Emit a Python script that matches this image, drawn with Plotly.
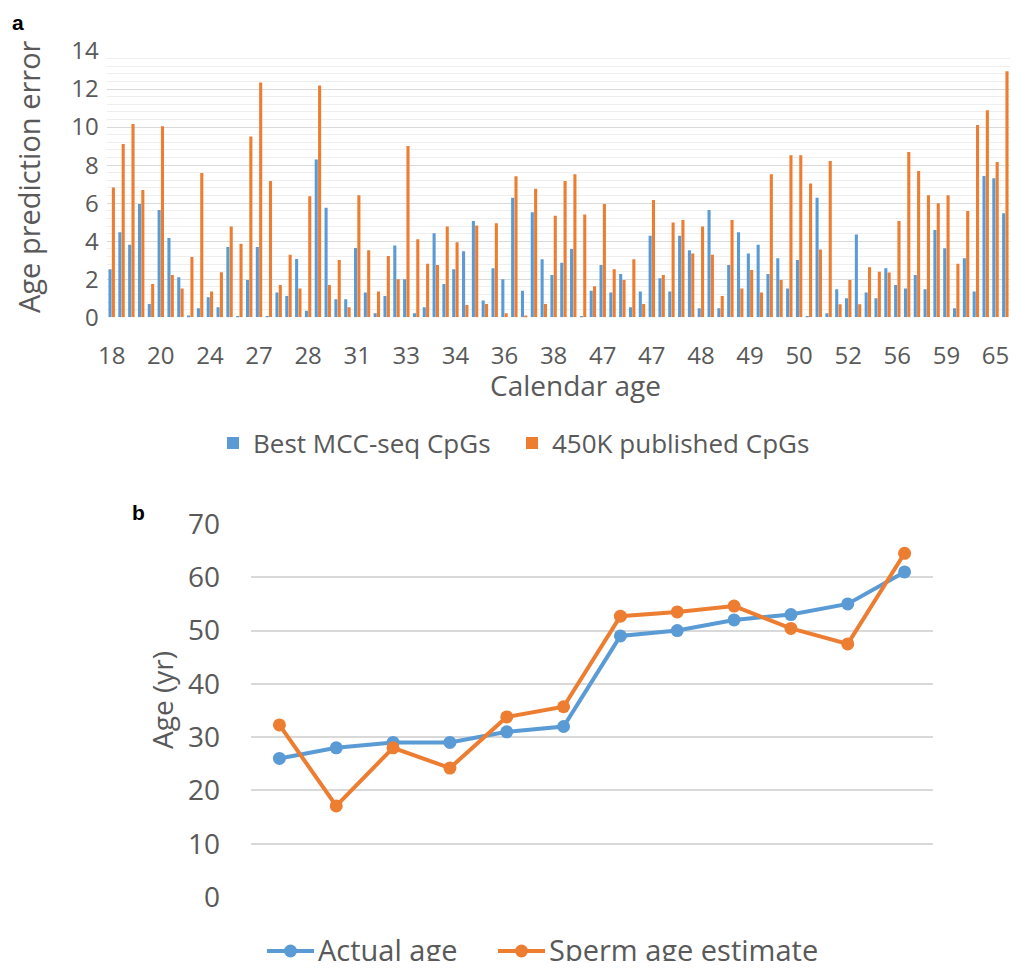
import plotly.graph_objects as go

S = 8                      # page body margin around the embedded figure
W, H = 1018 - S, 969 - 2 * S  # figure fills the window without scrolling

# ---- Panel a data ----
tick_labels = ["18", "20", "24", "27", "28", "31", "33", "34", "36", "38",
               "47", "47", "48", "49", "50", "52", "56", "59", "65"]
mcc_err = [2.52, 4.47, 3.82, 5.96, 0.70, 5.64, 4.17, 2.10, 0.10, 0.47,
           1.05, 0.53, 3.70, 0.05, 1.96, 3.70, 0.05, 1.30, 1.12, 3.07,
           0.35, 8.29, 5.76, 0.95, 0.95, 3.64, 1.30, 0.21, 1.12, 3.77,
           2.00, 0.21, 0.53, 4.42, 1.75, 2.52, 3.47, 5.06, 0.88, 2.58,
           2.00, 6.29, 1.40, 5.52, 3.05, 2.23, 2.87, 3.59, 0.05, 1.40,
           2.75, 1.30, 2.28, 0.53, 1.35, 4.29, 2.05, 1.35, 4.29, 3.52,
           0.47, 5.64, 0.47, 2.75, 4.47, 3.35, 3.82, 2.28, 3.10, 1.52,
           3.01, 0.05, 6.29, 0.21, 1.47, 1.00, 4.35, 1.30, 1.00, 2.58,
           1.70, 1.52, 2.23, 1.47, 4.59, 3.63, 0.47, 3.10, 1.35, 7.43,
           7.31, 5.47, 9.71]
k450_err = [6.82, 9.11, 10.16, 6.69, 1.75, 10.04, 2.23, 1.52, 3.17, 7.59,
            1.35, 2.37, 4.77, 3.87, 9.51, 12.35, 7.17, 1.70, 3.29, 1.52,
            6.36, 12.18, 1.70, 3.01, 0.53, 6.41, 3.52, 1.35, 3.22, 2.00,
            9.01, 4.10, 2.82, 2.75, 4.77, 3.94, 0.65, 4.82, 0.70, 4.94,
            0.21, 7.41, 0.10, 6.76, 0.70, 5.34, 7.17, 7.52, 5.41, 1.63,
            5.96, 2.52, 1.96, 3.05, 0.70, 6.17, 2.23, 4.99, 5.12, 3.35,
            4.77, 3.29, 1.12, 5.12, 1.52, 2.49, 1.30, 7.52, 1.96, 8.52,
            8.52, 7.04, 3.57, 8.22, 0.68, 1.96, 0.68, 2.63, 2.40, 2.35,
            5.06, 8.69, 7.69, 6.41, 5.99, 6.41, 2.82, 5.59, 10.11, 10.88,
            8.17, 12.93, 12.00]

# ---- Panel b data ----
actual_age = [26, 28, 29, 29, 31, 32, 49, 50, 52, 53, 55, 61]
sperm_age = [32.3, 17.1, 28.0, 24.2, 33.8, 35.7, 52.7, 53.5, 54.6, 50.4, 47.5, 64.5]
series_b = ["Actual age", "Sperm age estimate"]

BLUE = "#5B9BD5"
ORANGE = "#ED7D31"
GRAY = "#595959"
GRID = "#D9D9D9"
FONT = "Open Sans, Noto Sans, sans-serif"


def px(x):
    """page x pixel -> paper fraction"""
    return (x - S) / W


def py(y):
    """page y pixel (from top) -> paper fraction"""
    return (H - (y - S)) / H


idx = list(range(len(mcc_err)))
pos = list(range(len(actual_age)))

fig = go.Figure()
fig.add_trace(go.Bar(x=idx, y=mcc_err, name="Best MCC-seq CpGs",
                     marker=dict(color=BLUE, line=dict(width=0)),
                     xaxis="x", yaxis="y", legend="legend"))
fig.add_trace(go.Bar(x=idx, y=k450_err, name="450K published CpGs",
                     marker=dict(color=ORANGE, line=dict(width=0)),
                     xaxis="x", yaxis="y", legend="legend"))
fig.add_trace(go.Scatter(x=pos, y=actual_age, name=series_b[0], mode="lines+markers",
                         line=dict(color=BLUE, width=4), marker=dict(size=13, color=BLUE),
                         xaxis="x2", yaxis="y2", showlegend=False))
fig.add_trace(go.Scatter(x=pos, y=sperm_age, name=series_b[1], mode="lines+markers",
                         line=dict(color=ORANGE, width=4), marker=dict(size=13, color=ORANGE),
                         xaxis="x2", yaxis="y2", showlegend=False))

cat_w = 9.82
x_left = 106.8
x_end = 1018
x_right_val = -0.5 + (x_end - x_left) / cat_w

fig.update_layout(
    width=W, height=H,
    margin=dict(l=0, r=0, t=0, b=0, autoexpand=False),
    paper_bgcolor="white", plot_bgcolor="white",
    font=dict(family=FONT, color=GRAY, size=22),
    barmode="group", bargap=0.32, bargroupgap=0.08,
    xaxis=dict(domain=[px(x_left), px(x_end)], anchor="y", range=[-0.5, x_right_val],
               tickmode="array", tickvals=[i * 5 for i in range(len(tick_labels))],
               ticktext=tick_labels, showgrid=False, zeroline=False, showline=False,
               automargin=False,
               ticks="", ticklabelstandoff=22, tickfont=dict(size=24, color=GRAY)),
    yaxis=dict(domain=[py(317.3), py(51)], anchor="x", range=[0, 14], dtick=2,
               showgrid=True, gridcolor=GRID, gridwidth=1, zeroline=False, showline=False,
               automargin=False,
               ticks="", ticklabelstandoff=7, tickfont=dict(size=24, color=GRAY),
               minor=dict(dtick=0.4, tick0=0, showgrid=True, gridcolor="#EEEEEE", gridwidth=1)),
    xaxis2=dict(domain=[px(251), px(933)], anchor="y2", range=[-0.5, 11.5],
                automargin=False,
                showticklabels=False, showgrid=False, zeroline=False, showline=False, ticks=""),
    yaxis2=dict(domain=[py(897), py(524)], anchor="x2", range=[0, 70], dtick=10,
                showgrid=True, gridcolor=GRID, gridwidth=1.5, zeroline=False, showline=False,
                automargin=False,
                ticks="", ticklabelstandoff=30, tickfont=dict(size=28, color=GRAY)),
    legend=dict(orientation="h", x=px(213), y=py(443), xanchor="left", yanchor="middle",
                font=dict(size=26, color=GRAY), entrywidth=254, itemwidth=30,
                bgcolor="rgba(0,0,0,0)"),
    showlegend=True,
)

annos = [
    dict(text="<b>a</b>", x=px(18), y=py(22), font=dict(family="Liberation Sans, Arial", size=21, color="black")),
    dict(text="<b>b</b>", x=px(138), y=py(512), font=dict(family="Liberation Sans, Arial", size=21, color="black")),
    dict(text="Age prediction error", x=px(28), y=py(177), textangle=-90, font=dict(size=29, color=GRAY)),
    dict(text="Calendar age", x=px(575), y=py(385), font=dict(size=28, color=GRAY)),
    dict(text="Age (yr)", x=px(162), y=py(700), textangle=-90, font=dict(size=28, color=GRAY)),
]
for a in annos:
    fig.add_annotation(xref="paper", yref="paper", showarrow=False,
                       xanchor="center", yanchor="middle", **a)

# manual legend for panel b (line + marker key, then label)
leg_b = [(267, 314, BLUE, series_b[0], 316), (498, 545, ORANGE, series_b[1], 547)]
for x0, x1, col, label, tx in leg_b:
    fig.add_shape(type="line", xref="paper", yref="paper", x0=px(x0), x1=px(x1),
                  y0=py(951), y1=py(951), line=dict(color=col, width=4))
    cx = (x0 + x1) / 2
    fig.add_shape(type="circle", xref="paper", yref="paper", x0=px(cx - 6.5), x1=px(cx + 6.5),
                  y0=py(951 + 6.5), y1=py(951 - 6.5), fillcolor=col, line=dict(color=col, width=0))
    fig.add_annotation(xref="paper", yref="paper", showarrow=False, text=label,
                       x=px(tx), y=py(949), xanchor="left", yanchor="middle",
                       font=dict(size=29, color=GRAY))

fig.write_html("out.html")
